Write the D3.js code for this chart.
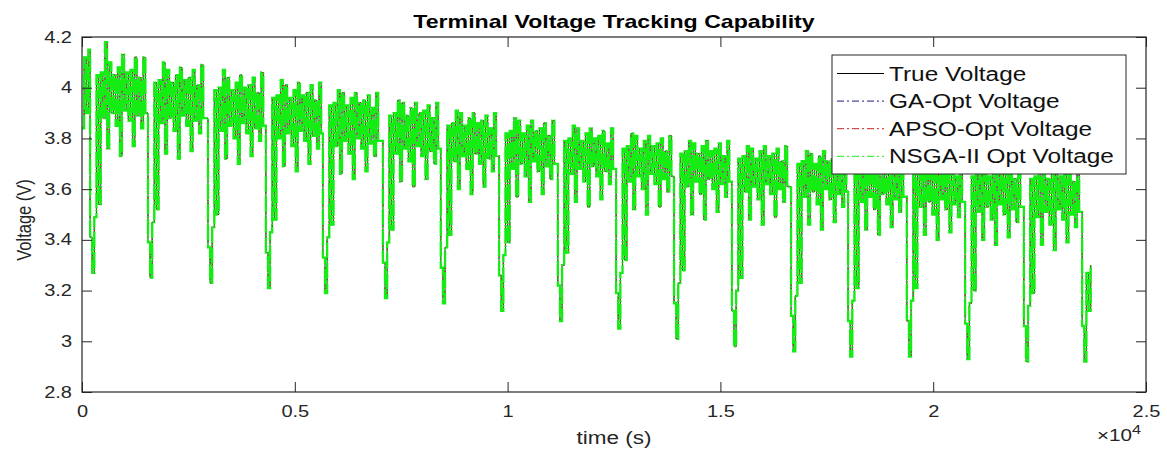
<!DOCTYPE html>
<html>
<head>
<meta charset="utf-8">
<script src="https://cdn.jsdelivr.net/npm/d3@7"></script>
<style>
  body { margin: 0; background: #fff; }
  svg { display: block; font-family: "Liberation Sans", Arial, sans-serif; }
</style>
</head>
<body>
<div id="chart"></div>
<script>
// logged trace, one sample every 50 s (held between samples)
const dt = 50;

// samples before the first discharge pulse (t = 0 .. 150 s)
const leadV = [3.84, 4.12, 3.90, 4.15];

// start time of every drive cycle (s), read from the big dips
const cycleStart = [190, 1550, 2960, 4320, 5660, 7070, 8430, 9800, 11180,
    12550, 13910, 15270, 16660, 18000, 19380, 20750, 22130, 23500];

// voltage samples of each cycle (V)
const cycleV = [
    [3.41,3.27,3.49,4.05,3.54,4.06,3.88,4.18,3.76,4.10,3.90,4.05,3.85,4.08,3.73,4.13,3.91,4.06,3.87,4.07,3.77,4.12,3.89,4.04,3.84,4.12,3.90],
    [3.39,3.25,3.47,4.02,3.52,4.03,3.86,4.10,3.74,4.07,3.88,4.02,3.83,4.05,3.72,4.08,3.89,4.03,3.85,4.04,3.75,4.07,3.87,4.01,3.82,4.09,3.88],
    [3.37,3.23,3.45,3.99,3.50,4.00,3.83,4.07,3.72,4.04,3.85,3.99,3.80,4.02,3.70,4.05,3.86,4.00,3.82,4.01,3.73,4.04,3.84,3.98,3.79,4.06,3.85],
    [3.35,3.21,3.43,3.96,3.48,3.97,3.80,4.03,3.69,4.01,3.82,3.96,3.77,3.99,3.67,4.02,3.83,3.97,3.79,3.98,3.70,4.01,3.81,3.95,3.76,4.02,3.82],
    [3.33,3.19,3.41,3.93,3.46,3.94,3.77,3.99,3.66,3.98,3.79,3.93,3.74,3.96,3.64,3.98,3.80,3.94,3.76,3.95,3.67,3.97,3.78,3.92,3.73,3.98,3.79],
    [3.31,3.17,3.39,3.89,3.44,3.90,3.74,3.95,3.63,3.94,3.76,3.89,3.71,3.92,3.61,3.94,3.77,3.90,3.73,3.91,3.64,3.93,3.75,3.88,3.70,3.94,3.76],
    [3.29,3.15,3.37,3.85,3.42,3.86,3.71,3.91,3.60,3.90,3.73,3.85,3.68,3.88,3.58,3.90,3.74,3.86,3.70,3.87,3.61,3.89,3.72,3.84,3.67,3.90,3.73],
    [3.26,3.12,3.34,3.82,3.39,3.83,3.68,3.88,3.57,3.87,3.70,3.82,3.65,3.85,3.55,3.87,3.71,3.83,3.67,3.84,3.58,3.86,3.69,3.81,3.64,3.87,3.70],
    [3.22,3.08,3.30,3.79,3.35,3.80,3.66,3.85,3.55,3.84,3.68,3.79,3.63,3.82,3.53,3.84,3.69,3.80,3.65,3.81,3.56,3.83,3.67,3.78,3.62,3.84,3.68],
    [3.19,3.05,3.27,3.76,3.32,3.77,3.63,3.82,3.52,3.81,3.65,3.76,3.60,3.79,3.50,3.81,3.66,3.77,3.62,3.78,3.53,3.80,3.64,3.75,3.59,3.81,3.65],
    [3.15,3.01,3.23,3.74,3.28,3.75,3.61,3.79,3.50,3.78,3.63,3.74,3.58,3.77,3.48,3.79,3.64,3.75,3.60,3.76,3.51,3.78,3.62,3.73,3.57,3.79,3.63],
    [3.12,2.98,3.20,3.72,3.25,3.73,3.59,3.77,3.48,3.76,3.61,3.72,3.56,3.75,3.46,3.77,3.62,3.73,3.58,3.74,3.49,3.76,3.60,3.71,3.55,3.77,3.61],
    [3.10,2.96,3.18,3.70,3.23,3.71,3.57,3.75,3.46,3.74,3.59,3.70,3.54,3.73,3.44,3.75,3.60,3.71,3.56,3.72,3.47,3.74,3.58,3.69,3.53,3.75,3.59],
    [3.08,2.94,3.16,3.68,3.21,3.69,3.55,3.74,3.44,3.72,3.57,3.68,3.52,3.71,3.42,3.73,3.58,3.69,3.54,3.70,3.45,3.72,3.56,3.67,3.51,3.73,3.57],
    [3.08,2.94,3.16,3.66,3.21,3.67,3.53,3.72,3.42,3.70,3.55,3.66,3.50,3.69,3.40,3.71,3.56,3.67,3.52,3.68,3.43,3.70,3.54,3.65,3.49,3.71,3.55],
    [3.07,2.93,3.15,3.65,3.20,3.66,3.51,3.71,3.40,3.69,3.53,3.65,3.48,3.68,3.38,3.70,3.54,3.66,3.50,3.67,3.41,3.69,3.52,3.64,3.47,3.70,3.53],
    [3.06,2.92,3.14,3.64,3.19,3.65,3.49,3.70,3.38,3.68,3.51,3.64,3.46,3.67,3.36,3.69,3.52,3.65,3.48,3.66,3.39,3.68,3.50,3.63,3.45,3.69,3.51],
    [3.06,2.92,3.27,3.12,3.30]
];

const seriesNames = ["True Voltage", "GA-Opt Voltage", "APSO-Opt Voltage", "NSGA-II Opt Voltage"];
const xTicks = [0, 5000, 10000, 15000, 20000, 25000];
const yTicks = [2.8, 3, 3.2, 3.4, 3.6, 3.8, 4, 4.2];

// the reference figure was stretched sideways, so text is too
const SX = 1.25;
const axisColor = "#262626";

const seriesStyle = [
    { color: "#000000", dash: null, width: 0.8, legendDash: null },
    { color: "#1a1a80", dash: "7,3,2,3", width: 0.8, legendDash: "7,3,2,3" },
    { color: "#cc2222", dash: "7,3,2,3", width: 0.8, legendDash: "7,3,2,3" },
    { color: "#14ec14", dash: "16,1.5,1.5,1.5", width: 2.3, legendDash: "7,3,2,3" }
];

class VoltageChart {
    constructor(_parentElement, _trace) {
        this.parentElement = _parentElement;
        this.trace = _trace;
        this.initVis();
    }

    stretchText(parent, x, y, str, size, anchor) {
        return parent.append("g")
            .attr("transform", `translate(${x},${y}) scale(${SX},1)`)
            .append("text")
            .attr("text-anchor", anchor)
            .attr("font-size", size + "px")
            .attr("fill", axisColor)
            .text(str);
    }

    initVis() {
        const vis = this;
        vis.margin = { LEFT: 82, RIGHT: 21, TOP: 37, BOTTOM: 65 };
        vis.width = 1167 - vis.margin.LEFT - vis.margin.RIGHT;
        vis.height = 457 - vis.margin.TOP - vis.margin.BOTTOM;

        vis.svg = d3.select(vis.parentElement).append("svg")
            .attr("width", 1167)
            .attr("height", 457);

        vis.svg.append("defs").append("clipPath")
            .attr("id", "plot-clip")
            .append("rect")
            .attr("width", vis.width)
            .attr("height", vis.height);

        vis.g = vis.svg.append("g")
            .attr("transform", `translate(${vis.margin.LEFT}, ${vis.margin.TOP})`);

        vis.x = d3.scaleLinear().domain([0, 25000]).range([0, vis.width]);
        vis.y = d3.scaleLinear().domain([2.8, 4.2]).range([vis.height, 0]);

        // lines, all four estimates sit on top of the measured trace
        const line = d3.line()
            .curve(d3.curveStepAfter)
            .x(d => vis.x(d.t))
            .y(d => vis.y(d.v));

        const lines = vis.g.append("g").attr("clip-path", "url(#plot-clip)");
        seriesStyle.forEach((s, i) => {
            lines.append("path")
                .datum(vis.trace[i])
                .attr("fill", "none")
                .attr("stroke", s.color)
                .attr("stroke-width", s.width)
                .attr("stroke-dasharray", s.dash)
                .attr("d", line);
        });

        // X Axis
        const xAxisCall = d3.axisBottom(vis.x)
            .tickValues(xTicks)
            .tickSizeInner(-10)
            .tickSizeOuter(0)
            .tickPadding(14)
            .tickFormat(d => d / 1e4);
        vis.g.append("g")
            .attr("class", "x axis")
            .attr("transform", `translate(0, ${vis.height})`)
            .call(xAxisCall);

        vis.g.append("g")
            .attr("class", "x axis")
            .call(d3.axisTop(vis.x).tickValues(xTicks).tickSizeInner(-10).tickSizeOuter(0).tickFormat(""));

        // Y Axis
        const yAxisCall = d3.axisLeft(vis.y)
            .tickValues(yTicks)
            .tickSizeInner(-10)
            .tickSizeOuter(0)
            .tickPadding(10)
            .tickFormat(d => String(+d.toFixed(1)));
        vis.g.append("g")
            .attr("class", "y axis")
            .call(yAxisCall);

        vis.g.append("g")
            .attr("class", "y axis")
            .attr("transform", `translate(${vis.width}, 0)`)
            .call(d3.axisRight(vis.y).tickValues(yTicks).tickSizeInner(-10).tickSizeOuter(0).tickFormat(""));

        vis.g.selectAll(".axis .domain").remove();
        vis.g.selectAll(".axis line").attr("stroke", axisColor);
        vis.g.selectAll(".axis text")
            .attr("font-family", "Liberation Sans, Arial, sans-serif")
            .attr("font-size", "16px")
            .attr("fill", axisColor)
            .attr("transform", `scale(${SX},1)`);
        vis.g.selectAll(".y.axis text").attr("x", -10 / SX);

        vis.g.append("rect")
            .attr("width", vis.width)
            .attr("height", vis.height)
            .attr("fill", "none")
            .attr("stroke", axisColor)
            .attr("stroke-width", 1.2);

        // labels
        vis.stretchText(vis.svg, 614, 28, "Terminal Voltage Tracking Capability", 18.5, "middle")
            .attr("font-weight", "bold")
            .attr("fill", "#000");
        vis.stretchText(vis.svg, 614, 444, "time (s)", 18, "middle");

        const expo = vis.stretchText(vis.svg, 1097, 441, "\u00d710", 16.5, "start");
        expo.append("tspan").attr("dy", -7).attr("font-size", "13px").text("4");

        vis.svg.append("g")
            .attr("transform", `translate(24, 220) scale(${SX},1) rotate(-90)`)
            .append("text")
            .attr("text-anchor", "middle")
            .attr("dy", "0.35em")
            .attr("font-size", "16.5px")
            .attr("fill", axisColor)
            .text("Voltage (V)");

        vis.addLegend();
    }

    addLegend() {
        const vis = this;
        const legend = vis.svg.append("g")
            .attr("transform", "translate(832, 55)");

        legend.append("rect")
            .attr("width", 294)
            .attr("height", 119)
            .attr("fill", "#fff")
            .attr("stroke", axisColor)
            .attr("stroke-width", 1);

        seriesNames.forEach((name, i) => {
            const yy = 25.5 + i * 27.6;
            legend.append("line")
                .attr("x1", 5)
                .attr("x2", 52)
                .attr("y1", yy - 7)
                .attr("y2", yy - 7)
                .attr("stroke", seriesStyle[i].color)
                .attr("stroke-width", 1)
                .attr("stroke-dasharray", seriesStyle[i].legendDash);
            vis.stretchText(legend, 57, yy, name, 19.5, "start").attr("fill", "#111");
        });
    }
}

// assemble the time/voltage pairs
const trueTrace = leadV.map((v, i) => ({ t: i * dt, v: v }));
cycleV.forEach((vals, j) => {
    vals.forEach((v, i) => trueTrace.push({ t: cycleStart[j] + i * dt, v: v }));
});

// the optimised model outputs cannot be told apart from the measurement at this scale
new VoltageChart("#chart", [trueTrace, trueTrace, trueTrace, trueTrace]);
</script>
</body>
</html>
